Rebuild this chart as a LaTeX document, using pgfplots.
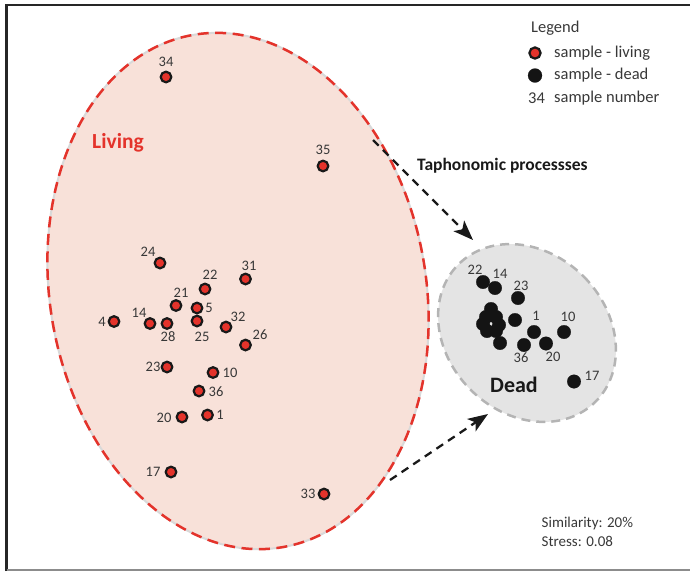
\documentclass[border=0pt]{standalone}
\usepackage{pgfplots}
\pgfplotsset{compat=1.18}
\usepackage{pgfplotstable}
\usepackage{fontspec}
\setmainfont{Carlito}
\usetikzlibrary{arrows.meta}
\definecolor{livred}{HTML}{E4332B}
\definecolor{livfill}{HTML}{F8E1D9}
\definecolor{deadfill}{HTML}{E4E4E4}
\definecolor{deadline}{HTML}{B4B4B4}
\definecolor{txt}{HTML}{383838}

\pgfplotstableread{
x y
166 77
323 166
160 263
245.5 279
205 289
176 305.5
197 308
114 321.5
150 323.5
167 323.5
197 321
226 327
245.5 345
167 367
213 372.5
199 391
182 417
207.5 415
171 472
324 494
}\living

\pgfplotstableread{
x y
483 282
495 288
518 298
491 309
486 317
496 317
483 324
499 325
487 331
496 331
500 343
515 320
534 332
564 332
524 345
546 343.5
574 381.5
}\dead

\newcommand{\lab}[3]{\node[font=\fontsize{14.5}{16}\selectfont, text=txt, inner sep=0pt] at (axis cs:#1,#2) {#3};}

\begin{document}
\begin{tikzpicture}
\useasboundingbox (0,0) rectangle (690pt,-571pt);
\begin{scope}[x=1pt,y=-1pt]
% living envelope
\fill[livfill, rotate around={10:(238,291)}] (238,291) ellipse [x radius=188, y radius=260];
\draw[black!15, line width=2pt, rotate around={10:(238,291)}] (238,291) ellipse [x radius=188, y radius=260];
\draw[livred, line width=2.5pt, dash pattern=on 11pt off 6.5pt, rotate around={10:(238,291)}] (238,291) ellipse [x radius=188, y radius=260];
% dead envelope
\fill[deadfill, rotate around={45:(527,333)}] (527,333) ellipse [x radius=80, y radius=97];
\draw[deadline, line width=2.5pt, dash pattern=on 9pt off 6pt, rotate around={45:(527,333)}] (527,333) ellipse [x radius=80, y radius=97];
% arrows
\draw[black!90, line width=2.3pt, dash pattern=on 8pt off 6pt, -{Stealth[length=20pt,width=15pt,inset=5pt]}] (373,140) -- (473,240);
\draw[black!90, line width=2.3pt, dash pattern=on 8pt off 6pt, -{Stealth[length=20pt,width=15pt,inset=5pt]}] (390,480) -- (488,414);
% texts
\node[anchor=west, font=\fontsize{17.5}{20}\selectfont\bfseries, text=black!90, inner sep=0pt] at (417,166) {Taphonomic processses};
\node[font=\fontsize{21.5}{24}\selectfont\bfseries, text=livred, inner sep=0pt] at (118,143) {Living};
\node[font=\fontsize{22}{24}\selectfont\bfseries, text=black!90, inner sep=0pt] at (514,385) {Dead};
\node[anchor=west, font=\fontsize{16.5}{19}\selectfont, text=txt, inner sep=0pt] at (531,28) {Legend};
\node[anchor=west, font=\fontsize{16.5}{19}\selectfont, text=txt, inner sep=0pt] at (554,53) {sample - living};
\node[anchor=west, font=\fontsize{16.5}{19}\selectfont, text=txt, inner sep=0pt] at (554,75.5) {sample - dead};
\node[anchor=west, font=\fontsize{16.5}{19}\selectfont, text=txt, inner sep=0pt] at (554,98) {sample number};
\node[anchor=west, font=\fontsize{16.5}{19}\selectfont, text=txt, inner sep=0pt] at (528,98) {34};
\node[anchor=west, font=\fontsize{15}{18}\selectfont, text=txt, inner sep=0pt] at (541.5,523) {Similarity: 20\%};
\node[anchor=west, font=\fontsize{15}{18}\selectfont, text=txt, inner sep=0pt] at (541.5,541) {Stress: 0.08};
\end{scope}

\begin{axis}[
  at={(0,0)}, anchor=north west,
  scale only axis, width=690pt, height=571pt,
  xmin=0, xmax=690, ymin=0, ymax=571, y dir=reverse,
  hide axis, clip=false,
]
\addplot[only marks, mark=*, mark size=5.3pt, mark options={fill=livred, draw=black!90, line width=2.2pt}] table[x=x,y=y] {\living};
\addplot[only marks, mark=*, mark size=6.8pt, mark options={fill=black!92, draw=black!92, line width=0.2pt}] table[x=x,y=y] {\dead};
% legend markers
\addplot[only marks, mark=*, mark size=5.6pt, mark options={fill=livred, draw=black!90, line width=2.2pt}] coordinates {(535,53)};
\addplot[only marks, mark=*, mark size=7pt, mark options={fill=black!92, draw=black!92, line width=0.2pt}] coordinates {(535,75.5)};
% living labels
\lab{166}{61.5}{34}
\lab{323}{149.5}{35}
\lab{148}{252}{24}
\lab{249}{266}{31}
\lab{210}{275}{22}
\lab{181}{293}{21}
\lab{209}{308}{5}
\lab{102}{321.5}{4}
\lab{139}{313}{14}
\lab{168}{337}{28}
\lab{202}{337}{25}
\lab{238}{317}{32}
\lab{260}{335}{26}
\lab{153}{367}{23}
\lab{230}{373}{10}
\lab{216}{392}{36}
\lab{164}{418}{20}
\lab{220}{415}{1}
\lab{153}{472}{17}
\lab{308}{494}{33}
% dead labels
\lab{475}{270}{22}
\lab{500}{274}{14}
\lab{521}{286}{23}
\lab{536}{316}{1}
\lab{568}{316.5}{10}
\lab{521}{358}{36}
\lab{553}{357}{20}
\lab{592}{376}{17}
\end{axis}

\begin{scope}[x=1pt,y=-1pt]
\draw[black!85, line width=2.5pt] (6.5,571) -- (6.5,5) -- (690,5);
\draw[black!45, line width=2pt] (6.5,569.8) -- (690,569.8);
\end{scope}
\end{tikzpicture}
\end{document}
